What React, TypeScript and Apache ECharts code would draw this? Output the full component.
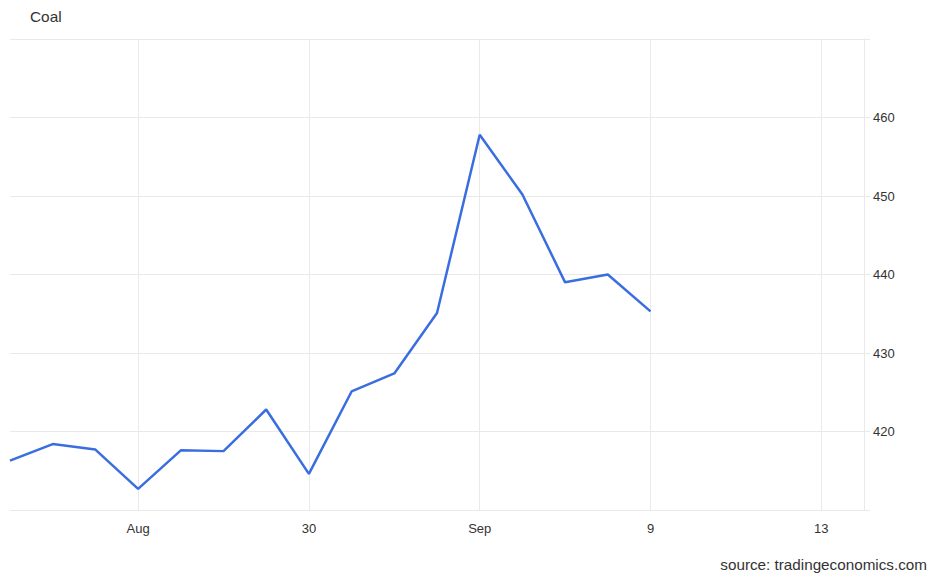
import React, { useEffect, useRef } from "react";
import * as echarts from "echarts";

const xLabels = ["", "", "", "Aug", "", "", "", "30", "", "", "", "Sep", "", "", "", "9", "", "", "", "13", ""];
const coalValues = [416.3, 418.4, 417.7, 412.7, 417.6, 417.5, 422.8, 414.6, 425.1, 427.4, 435.1, 457.8, 450.2, 439.0, 440.0, 435.3];
const yHiddenTicks = [410, 470];

const FONT = "'Liberation Sans', Arial, sans-serif";
const GRID_COLOR = "#e9e9e9";

export default function App() {
  const ref = useRef<HTMLDivElement>(null);
  useEffect(() => {
    if (!ref.current) return;
    const chart = echarts.init(ref.current, undefined, { renderer: "svg" });
    chart.setOption({
      animation: false,
      backgroundColor: "#ffffff",
      graphic: [
        {
          type: "text",
          x: 30,
          y: 17,
          scaleX: 1.1,
          style: {
            text: "Coal",
            font: `14px ${FONT}`,
            fill: "#333333",
            textAlign: "left",
            textVerticalAlign: "middle",
          },
        },
        {
          type: "text",
          x: 927,
          y: 565,
          scaleX: 1.09,
          style: {
            text: "source: tradingeconomics.com",
            font: `14px ${FONT}`,
            fill: "#333333",
            textAlign: "right",
            textVerticalAlign: "middle",
          },
        },
      ],
      grid: { left: 10, right: 65, top: 39, bottom: 64, containLabel: false },
      xAxis: {
        type: "category",
        data: xLabels,
        boundaryGap: false,
        axisLine: { show: true, lineStyle: { color: GRID_COLOR, width: 1 } },
        axisTick: { show: false },
        axisLabel: {
          interval: (i: number) => xLabels[i] !== "",
          margin: 12,
          fontFamily: FONT,
          fontSize: 13,
          color: "#333333",
        },
        splitLine: {
          show: true,
          interval: (i: number) => xLabels[i] !== "",
          lineStyle: { color: GRID_COLOR, width: 1 },
        },
      },
      yAxis: {
        type: "value",
        position: "right",
        min: 410,
        max: 470,
        interval: 10,
        axisLine: { show: true, lineStyle: { color: GRID_COLOR, width: 1 } },
        axisTick: { show: true, length: 6, lineStyle: { color: GRID_COLOR } },
        axisLabel: {
          margin: 9,
          fontFamily: FONT,
          fontSize: 13,
          color: "#333333",
          formatter: (v: number) => (yHiddenTicks.includes(v) ? "" : String(v)),
        },
        splitLine: { show: true, lineStyle: { color: GRID_COLOR, width: 1 } },
      },
      series: [
        {
          type: "line",
          data: coalValues,
          showSymbol: false,
          symbol: "none",
          lineStyle: { color: "#3a6ee0", width: 2.5 },
          itemStyle: { color: "#3a6ee0" },
        },
      ],
    });
    return () => chart.dispose();
  }, []);
  return <div ref={ref} style={{ width: 929, height: 574, position: "absolute", left: 0, top: 0 }} />;
}
